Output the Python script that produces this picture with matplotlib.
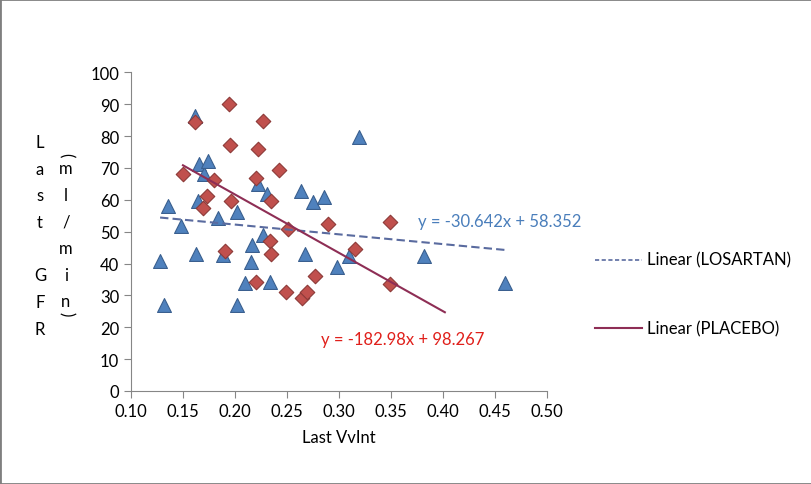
import numpy as np
import matplotlib.pyplot as plt
from matplotlib.lines import Line2D
from matplotlib.patches import Rectangle

plt.rcParams['font.family'] = ['Lato', 'DejaVu Sans']

# LOSARTAN (triangles)
los_x = [0.128, 0.132, 0.136, 0.148, 0.162, 0.163, 0.164, 0.165, 0.170, 0.174,
         0.184, 0.189, 0.202, 0.202, 0.210, 0.215, 0.216, 0.222, 0.227, 0.231,
         0.234, 0.264, 0.267, 0.275, 0.286, 0.298, 0.310, 0.319, 0.382, 0.460]
los_y = [40.9, 27.0, 58.0, 51.9, 86.4, 43.1, 59.7, 71.2, 68.1, 72.3,
         54.2, 42.7, 56.3, 27.0, 33.8, 40.6, 45.7, 65.0, 49.1, 61.8,
         34.1, 62.9, 43.0, 59.3, 60.8, 38.8, 42.3, 79.6, 42.5, 33.9]

# PLACEBO (diamonds)
pla_x = [0.150, 0.162, 0.169, 0.173, 0.180, 0.190, 0.194, 0.195, 0.196, 0.220,
         0.220, 0.222, 0.227, 0.234, 0.235, 0.235, 0.242, 0.249, 0.251, 0.265,
         0.269, 0.277, 0.290, 0.316, 0.349, 0.349]
pla_y = [68.1, 84.3, 57.3, 61.3, 66.3, 44.0, 90.0, 77.3, 59.6, 66.7,
         34.1, 75.8, 84.8, 47.0, 59.5, 43.0, 69.5, 31.2, 50.8, 29.1,
         31.1, 36.0, 52.4, 44.7, 53.1, 33.6]

# trendlines as printed on the chart
los_fit = (-30.642, 58.352)
pla_fit = (-182.98, 98.267)
los_span = [0.128, 0.460]
pla_span = [0.150, 0.402]

xticks = [0.10, 0.15, 0.20, 0.25, 0.30, 0.35, 0.40, 0.45, 0.50]
yticks = [0, 10, 20, 30, 40, 50, 60, 70, 80, 90, 100]

W, H = 812, 485
fig = plt.figure(figsize=(W/100, H/100), dpi=100)
ax = fig.add_axes([131/W, 1-392/H, (546.7-131)/W, (392-73.3)/H])

def px(x, y):
    return x/W, 1-y/H

ax.scatter(los_x, los_y, marker='^', s=100, color='#4F81BD', edgecolor='#3A5F8F',
           linewidth=0.8, zorder=3)
ax.scatter(pla_x, pla_y, marker='D', s=55, color='#C0504D', edgecolor='#8C3A38',
           linewidth=0.8, zorder=3)

lx = np.array(los_span)
ax.plot(lx, los_fit[0]*lx + los_fit[1], color='#5A6B9F', lw=1.5, dashes=(4, 2), zorder=4)
pxs = np.array(pla_span)
ax.plot(pxs, pla_fit[0]*pxs + pla_fit[1], color='#8E2E55', lw=1.5, zorder=4)

ax.set_xlim(0.10, 0.50)
ax.set_ylim(0, 100)
ax.set_xticks(xticks)
ax.set_yticks(yticks)
ax.set_xticklabels(['%.2f' % v for v in xticks])
for s in ['top', 'right']:
    ax.spines[s].set_visible(False)
for s in ['left', 'bottom']:
    ax.spines[s].set_color('#868686')
ax.tick_params(direction='out', length=5, color='#868686', labelsize=12,
               labelcolor='black')
ax.set_xlabel('Last VvInt', fontsize=12, labelpad=7)

# stacked y label
col1 = 'Last GFR'
for i, ch in enumerate(col1):
    fig.text(*px(40, 143 + 26.7*i), ch, fontsize=12, ha='center', va='center')
col2 = '(ml/min)'
ys2 = [155, 169, 196, 222.5, 249, 276, 302, 314]
for ch, yy in zip(col2, ys2):
    rot = -90 if ch in '()' else 0
    fig.text(*px(66, yy), ch, fontsize=12, ha='center', va='center', rotation=rot)

# equations
fig.text(*px(418, 222), 'y = -30.642x + 58.352', color='#4A7EBB', fontsize=12, va='center')
fig.text(*px(321, 340), 'y = -182.98x + 98.267', color='#E0201B', fontsize=12, va='center')

# legend
fig.add_artist(Line2D([595/W, 642/W], [1-260.5/H]*2, color='#5A6B9F', lw=1.2, dashes=(2.5, 1.5)))
fig.text(*px(647, 260.5), 'Linear (LOSARTAN)', fontsize=12, va='center')
fig.add_artist(Line2D([595/W, 642/W], [1-329/H]*2, color='#8E2E55', lw=1.5))
fig.text(*px(647, 329), 'Linear (PLACEBO)', fontsize=12, va='center')

fig.patches.append(Rectangle((0, 0), 1, 1, transform=fig.transFigure, fill=False,
                             edgecolor='#7F7F7F', lw=2))

fig.savefig('out.png', dpi=100)
